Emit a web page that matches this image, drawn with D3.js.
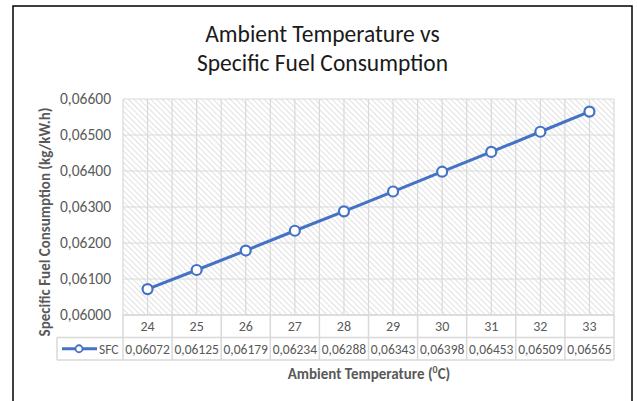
<!DOCTYPE html>
<html>
<head>
<meta charset="utf-8">
<script src="https://cdn.jsdelivr.net/npm/d3@7"></script>
<style>
  body { margin: 0; background: #fff; }
  text { font-family: Carlito, Lato, "Open Sans", sans-serif; }
</style>
</head>
<body>
<div id="chart"></div>
<script>
// Data
const temperatures = ["24", "25", "26", "27", "28", "29", "30", "31", "32", "33"];
const sfcValues = [0.06072, 0.06125, 0.06179, 0.06234, 0.06288, 0.06343, 0.06398, 0.06453, 0.06509, 0.06565];
const yTicks = [0.060, 0.061, 0.062, 0.063, 0.064, 0.065, 0.066];
const seriesName = "SFC";

const W = 638, H = 401;
const plot = { left: 123, right: 614, top: 99, bottom: 315 };
const rowH = 22.5;
const legendLeft = 57;
const grey = "#595959", gridCol = "#d9d9d9";
const blue = "#4472c4";

const fmt = v => v.toFixed(5).replace(".", ",");

const svg = d3.select("#chart").append("svg")
    .attr("width", W)
    .attr("height", H);

// hatch pattern for plot background
const defs = svg.append("defs");
const pat = defs.append("pattern")
    .attr("id", "hatch")
    .attr("width", 4)
    .attr("height", 4)
    .attr("patternUnits", "userSpaceOnUse")
    .attr("patternTransform", "rotate(-45)");
pat.append("rect").attr("width", 4).attr("height", 4).attr("fill", "#fff");
pat.append("line")
    .attr("x1", 0).attr("y1", 0).attr("x2", 0).attr("y2", 4)
    .attr("stroke", "#d4d4d4")
    .attr("stroke-width", 1.4);

// chart border
svg.append("rect")
    .attr("x", 13).attr("y", 6)
    .attr("width", 619).attr("height", 420)
    .attr("fill", "#fff")
    .attr("stroke", "#000")
    .attr("stroke-width", 1.5);

// scales
const x = d3.scaleBand().domain(temperatures).range([plot.left, plot.right]);
const y = d3.scaleLinear().domain([0.060, 0.066]).range([plot.bottom, plot.top]);

svg.append("rect")
    .attr("x", plot.left).attr("y", plot.top)
    .attr("width", plot.right - plot.left)
    .attr("height", plot.bottom - plot.top)
    .attr("fill", "url(#hatch)");

// vertical gridlines: category edges and centres
const vLines = [];
temperatures.forEach(t => { vLines.push(x(t)); vLines.push(x(t) + x.bandwidth() / 2); });
vLines.push(plot.right);
svg.append("g").selectAll("line").data(vLines).join("line")
    .attr("x1", d => d).attr("x2", d => d)
    .attr("y1", plot.top).attr("y2", plot.bottom)
    .attr("stroke", gridCol).attr("stroke-width", 1.2);

// horizontal gridlines
svg.append("g").selectAll("line").data(yTicks).join("line")
    .attr("x1", plot.left).attr("x2", plot.right)
    .attr("y1", d => y(d)).attr("y2", d => y(d))
    .attr("stroke", gridCol).attr("stroke-width", 1.2);

// Y axis labels
const yAxis = svg.append("g")
    .attr("transform", `translate(${plot.left - 12},0)`)
    .call(d3.axisLeft(y).tickValues(yTicks).tickFormat(fmt).tickSize(0).tickPadding(0));
yAxis.select(".domain").remove();
yAxis.selectAll("text")
    .attr("fill", grey)
    .style("font-size", "15.5px")
    .style("font-family", "Carlito, Lato, 'Open Sans', sans-serif");

// data table
const table = svg.append("g");
const rows = [plot.bottom, plot.bottom + rowH, plot.bottom + 2 * rowH];
table.append("line")
    .attr("x1", plot.left).attr("x2", plot.right)
    .attr("y1", rows[0]).attr("y2", rows[0])
    .attr("stroke", gridCol).attr("stroke-width", 1.5);
table.selectAll("line.h").data([rows[1], rows[2]]).join("line")
    .attr("class", "h")
    .attr("x1", legendLeft).attr("x2", plot.right)
    .attr("y1", d => d).attr("y2", d => d)
    .attr("stroke", gridCol).attr("stroke-width", 1.5);
const colEdges = temperatures.map(t => x(t)).concat([plot.right]);
table.selectAll("line.v").data(colEdges).join("line")
    .attr("class", "v")
    .attr("x1", d => d).attr("x2", d => d)
    .attr("y1", rows[0]).attr("y2", rows[2])
    .attr("stroke", gridCol).attr("stroke-width", 1.5);
table.append("line")
    .attr("x1", legendLeft).attr("x2", legendLeft)
    .attr("y1", rows[1]).attr("y2", rows[2])
    .attr("stroke", gridCol).attr("stroke-width", 1.5);

table.selectAll("text.cat").data(temperatures).join("text")
    .attr("class", "cat")
    .attr("x", d => x(d) + x.bandwidth() / 2)
    .attr("y", rows[0] + rowH / 2 + 5)
    .attr("text-anchor", "middle")
    .attr("fill", grey)
    .style("font-size", "14px")
    .text(d => d);

table.selectAll("text.val").data(sfcValues).join("text")
    .attr("class", "val")
    .attr("x", (d, i) => x(temperatures[i]) + x.bandwidth() / 2)
    .attr("y", rows[1] + rowH / 2 + 5)
    .attr("text-anchor", "middle")
    .attr("fill", grey)
    .style("font-size", "13.5px")
    .text(d => fmt(d));

// legend key inside table
const ly = rows[1] + rowH / 2;
table.append("line")
    .attr("x1", legendLeft + 5).attr("x2", legendLeft + 40)
    .attr("y1", ly).attr("y2", ly)
    .attr("stroke", blue).attr("stroke-width", 3);
table.append("circle")
    .attr("cx", legendLeft + 22).attr("cy", ly).attr("r", 3.5)
    .attr("fill", "#fff").attr("stroke", blue).attr("stroke-width", 1.8);
table.append("text")
    .attr("x", legendLeft + 42)
    .attr("y", ly + 5)
    .attr("fill", grey)
    .style("font-size", "13.5px")
    .text(seriesName);

// series line + markers
const line = d3.line()
    .x((d, i) => x(temperatures[i]) + x.bandwidth() / 2)
    .y(d => y(d));
svg.append("path")
    .datum(sfcValues)
    .attr("d", line)
    .attr("fill", "none")
    .attr("stroke", blue)
    .attr("stroke-width", 3);
svg.append("g").selectAll("circle").data(sfcValues).join("circle")
    .attr("cx", (d, i) => x(temperatures[i]) + x.bandwidth() / 2)
    .attr("cy", d => y(d))
    .attr("r", 5)
    .attr("fill", "#fff")
    .attr("stroke", blue)
    .attr("stroke-width", 2.2);

// titles
const title = svg.append("text")
    .attr("x", 322.5)
    .attr("text-anchor", "middle")
    .attr("fill", "#1a1a1a")
    .style("font-size", "23.5px");
title.append("tspan").attr("x", 322.5).attr("y", 42).text("Ambient Temperature vs");
title.append("tspan").attr("x", 322.5).attr("y", 71).text("Specific Fuel Consumption");

const xt = svg.append("text")
    .attr("x", 369)
    .attr("y", 379)
    .attr("text-anchor", "middle")
    .attr("fill", grey)
    .style("font-size", "15px")
    .style("font-weight", "bold");
xt.append("tspan").text("Ambient Temperature (");
xt.append("tspan").attr("dy", -6).style("font-size", "10px").text("0");
xt.append("tspan").attr("dy", 6).text("C)");

svg.append("text")
    .attr("transform", `translate(50,222) rotate(-90)`)
    .attr("text-anchor", "middle")
    .attr("fill", grey)
    .style("font-size", "15px")
    .style("font-weight", "bold")
    .text("Specific Fuel Consumption (kg/kW.h)");
</script>
</body>
</html>
